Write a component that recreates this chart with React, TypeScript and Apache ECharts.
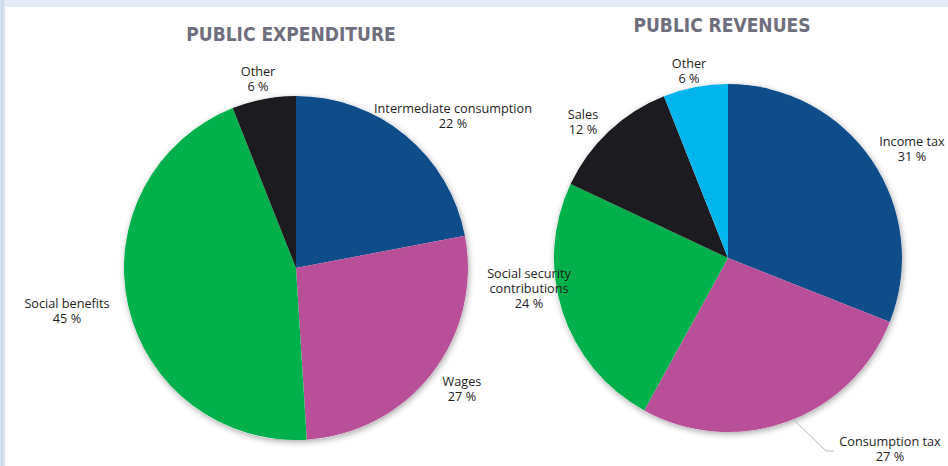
import React, { useEffect, useRef } from "react";
import * as echarts from "echarts";

const expenditureNames = ["Intermediate consumption", "Wages", "Social benefits", "Other"];
const expenditureValues = [22, 27, 45, 6];
const expenditureColors = ["#0f4c8a", "#b84f98", "#00b04a", "#1c1c20"];

const revenueNames = ["Income tax", "Consumption tax", "Social security\ncontributions", "Sales", "Other"];
const revenueValues = [31, 27, 24, 12, 6];
const revenueColors = ["#0f4c8a", "#b84f98", "#00b04a", "#1c1c20", "#00b4ec"];

const expLabelPos = [
  [453, 115],
  [462, 388],
  [67, 310],
  [258, 78],
];
const revLabelPos = [
  [912, 148],
  [890, 448],
  [529, 288],
  [583, 121],
  [689, 70],
];

const labelStyle = {
  show: true,
  formatter: (p: any) => `${p.name}\n${p.value} %`,
  fontFamily: "Open Sans",
  fontSize: 12.7,
  lineHeight: 15,
  color: "#1e1e1e",
  align: "center",
  verticalAlign: "middle",
  overflow: "none",
  alignTo: "none",
};

export default function App() {
  const ref = useRef<HTMLDivElement>(null);
  useEffect(() => {
    document.body.style.margin = "0";
    const chart = echarts.init(ref.current!, undefined, { renderer: "svg" });
    const shadowPie = (center: string[], radius: number) => ({
      type: "pie",
      silent: true,
      center,
      radius,
      z: 1,
      label: { show: false },
      labelLine: { show: false },
      itemStyle: {
        color: "#ffffff",
        shadowBlur: 6,
        shadowColor: "rgba(0,0,0,0.35)",
        shadowOffsetX: 1,
        shadowOffsetY: 2,
      },
      data: [{ value: 1, name: "" }],
    });
    chart.setOption({
      animation: false,
      backgroundColor: "#ffffff",
      title: [
        {
          text: "PUBLIC EXPENDITURE",
          left: 286,
          top: 19,
          textAlign: "center",
          textStyle: { fontFamily: "DejaVu Sans Condensed", fontWeight: "bold", fontSize: 19, color: "#6e6e7c" },
        },
        {
          text: "PUBLIC REVENUES",
          left: 717,
          top: 10,
          textAlign: "center",
          textStyle: { fontFamily: "DejaVu Sans Condensed", fontWeight: "bold", fontSize: 19, color: "#6e6e7c" },
        },
      ],
      graphic: [
        { type: "rect", shape: { x: 0, y: 0, width: 948, height: 7 }, style: { fill: "#e3ebf5" } },
        { type: "rect", shape: { x: 0, y: 0, width: 5, height: 466 }, style: { fill: "#d8e3f0" } },
        { type: "rect", shape: { x: 1, y: 0, width: 2, height: 466 }, style: { fill: "#c9d8ea" } },
      ],
      series: [
        shadowPie(["296", "268"], 172),
        {
          type: "pie",
          center: ["296", "268"],
          radius: 172,
          startAngle: 90,
          clockwise: true,
          z: 2,
          label: labelStyle,
          labelLine: { show: false },
          labelLayout: (p: any) => ({
            x: expLabelPos[p.dataIndex][0],
            y: expLabelPos[p.dataIndex][1],
            align: "center",
            verticalAlign: "middle",
          }),
          data: expenditureNames.map((n, i) => ({
            name: n,
            value: expenditureValues[i],
            itemStyle: { color: expenditureColors[i] },
          })),
        },
        shadowPie(["728", "258"], 174),
        {
          type: "pie",
          center: ["728", "258"],
          radius: 174,
          startAngle: 90,
          clockwise: true,
          z: 2,
          label: labelStyle,
          labelLine: { show: false, lineStyle: { color: "#b8b8b8", width: 1 } },
          labelLayout: (p: any) => {
            const r: any = {
              x: revLabelPos[p.dataIndex][0],
              y: revLabelPos[p.dataIndex][1],
              align: "center",
              verticalAlign: "middle",
            };
            if (p.dataIndex === 1) {
              r.labelLinePoints = [
                [794, 420],
                [826, 451],
                [834, 451],
              ];
            }
            return r;
          },
          data: revenueNames.map((n, i) => ({
            name: n,
            value: revenueValues[i],
            itemStyle: { color: revenueColors[i] },
            labelLine: { show: i === 1 },
          })),
        },
      ],
    });
    return () => chart.dispose();
  }, []);
  return <div ref={ref} style={{ width: 948, height: 466 }} />;
}
